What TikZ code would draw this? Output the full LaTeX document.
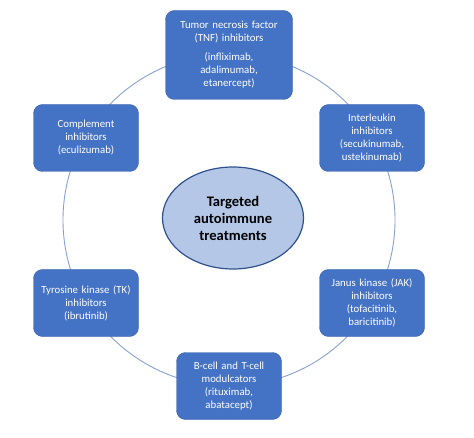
\documentclass[tikz,border=0pt]{standalone}
\usepackage{fontspec}
\setmainfont{Carlito}
\usetikzlibrary{positioning,shapes.geometric}
\definecolor{BoxBlue}{RGB}{68,114,196}
\definecolor{BoxEdge}{RGB}{58,98,170}
\definecolor{HubFill}{RGB}{180,199,231}
\definecolor{HubEdge}{RGB}{47,82,143}
\definecolor{RingLine}{RGB}{135,160,210}
\tikzset{
  ring/.style={draw=RingLine,line width=0.9pt},
  drugbox/.style={draw=BoxEdge,fill=BoxBlue,rounded corners=9pt,text=white,
    align=center,font=\fontsize{10.8}{13}\selectfont,text width=100pt,
    minimum width=105pt,minimum height=67pt,inner sep=2pt},
  hub/.style={ellipse,draw=HubEdge,line width=1.2pt,fill=HubFill,
    align=center,font=\fontsize{14.6}{17}\selectfont\bfseries,
    minimum width=141pt,minimum height=102pt,inner sep=0pt}
}

\begin{document}
\begin{tikzpicture}[x=1pt,y=1pt]
  \useasboundingbox (0,0) rectangle (474,437);
  \coordinate (mid) at (229,217);
  \draw[ring] (mid) circle (166);
  \node[hub] (core) at (233,219) {Targeted\\autoimmune\\treatments};
  \node[drugbox,minimum width=127pt,minimum height=89pt,text width=115pt] (tnf) at (229,382) {
    Tumor necrosis factor\\(TNF) inhibitors\\[6pt]
    (infliximab,\\adalimumab,\\etanercept)};
  \node[drugbox] (il) at (372,299) {
    Interleukin\\inhibitors\\(secukinumab,\\ustekinumab)};
  \node[drugbox] (jak) at (372,134) {
    Janus kinase (JAK)\\inhibitors\\(tofacitinib,\\baricitinib)};
  \node[drugbox] (bt) at (229,51) {
    B-cell and T-cell\\modulcators\\(rituximab,\\abatacept)};
  \node[drugbox] (tk) at (86,134) {
    Tyrosine kinase (TK)\\inhibitors\\(ibrutinib)};
  \node[drugbox] (comp) at (86,299) {
    Complement\\inhibitors\\(eculizumab)};
\end{tikzpicture}
\end{document}
